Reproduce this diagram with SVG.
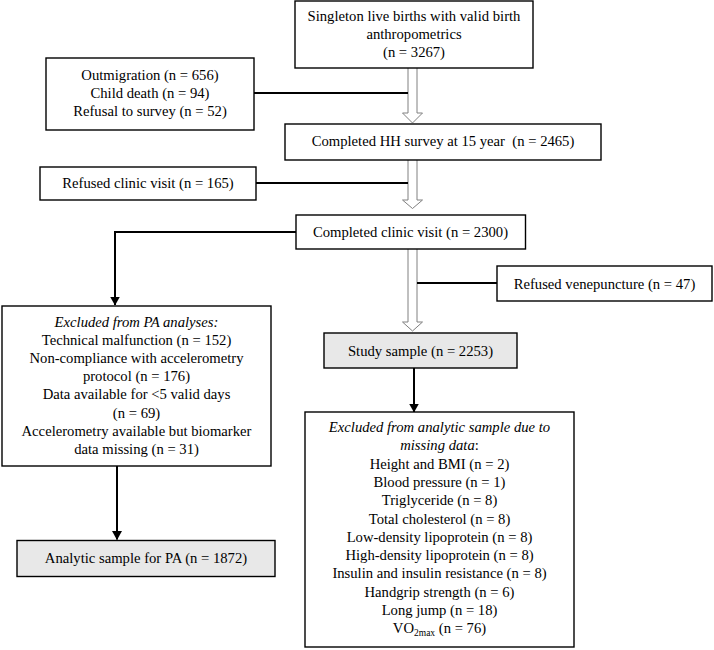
<svg xmlns="http://www.w3.org/2000/svg" width="714" height="650" viewBox="0 0 714 650">
<style>
text{font-family:"Liberation Serif","Times New Roman",serif;font-size:14.67px;fill:#000;text-anchor:middle}
.box{fill:#fff;stroke:#000;stroke-width:1.4}
.grey{fill:#e8e8e8;stroke:#000;stroke-width:1.4}
.conn{fill:none;stroke:#000;stroke-width:2}
.hollow{fill:#fff;stroke:#808080;stroke-width:1}
.it{font-style:italic}
</style>
<defs>
<marker id="ah" markerWidth="9" markerHeight="10" refX="8.5" refY="5" orient="auto" markerUnits="userSpaceOnUse">
<path d="M0,0 L9,5 L0,10 Z" fill="#000"/>
</marker>
</defs>
<rect width="714" height="650" fill="#fff"/>
<g id="connectors">
<path class="hollow" d="M408,68 V113 H402.5 L412.5,123 L422.5,113 H417 V68"/>
<path class="hollow" d="M408,160 V200 H402.5 L412.5,208.5 L422.5,200 H417 V160"/>
<path class="hollow" d="M408,249 V322 H402.5 L412.5,331 L422.5,322 H417 V249"/>
<path class="conn" d="M254,93 H408"/>
<path class="conn" d="M256,183 H408"/>
<path class="conn" d="M417,283 H497"/>
<path class="conn" d="M296,232 H115 V305" marker-end="url(#ah)"/>
<path class="conn" d="M117,466 V539.5" marker-end="url(#ah)"/>
<path class="conn" d="M414,368 V412" marker-end="url(#ah)"/>
</g>
<g id="births">
<rect class="box" x="295" y="1" width="238" height="67"/>
<text x="414" y="20.5">Singleton live births with valid birth</text>
<text x="414" y="38.8">anthropometrics</text>
<text x="414" y="57.1">(n = 3267)</text>
</g>
<g id="loss1">
<rect class="box" x="46" y="58" width="208" height="72"/>
<text x="150" y="79.5">Outmigration (n = 656)</text>
<text x="150" y="97.5">Child death (n = 94)</text>
<text x="150" y="115.5">Refusal to survey (n = 52)</text>
</g>
<g id="hh">
<rect class="box" x="285" y="124" width="316" height="36"/>
<text x="443" y="145.5">Completed HH survey at 15 year&#160; (n = 2465)</text>
</g>
<g id="refclinic">
<rect class="box" x="40" y="167" width="216" height="33"/>
<text x="148" y="188">Refused clinic visit (n = 165)</text>
</g>
<g id="clinic">
<rect class="box" x="296" y="215" width="229.5" height="34"/>
<text x="410.5" y="236.5">Completed clinic visit (n = 2300)</text>
</g>
<g id="refvene">
<rect class="box" x="497" y="266" width="215" height="35"/>
<text x="604.5" y="289">Refused venepuncture (n = 47)</text>
</g>
<g id="study">
<rect class="grey" x="324" y="333" width="193" height="35"/>
<text x="420.5" y="355.5">Study sample (n = 2253)</text>
</g>
<g id="excludedPA">
<rect class="box" x="2" y="306" width="269" height="160"/>
<text x="136.5" y="326.5" class="it">Excluded from PA analyses:</text>
<text x="136.5" y="344.7">Technical malfunction (n = 152)</text>
<text x="136.5" y="362.9">Non-compliance with accelerometry</text>
<text x="136.5" y="381.1">protocol (n = 176)</text>
<text x="136.5" y="399.3">Data available for &lt;5 valid days</text>
<text x="136.5" y="417.5">(n = 69)</text>
<text x="136.5" y="435.7">Accelerometry available but biomarker</text>
<text x="136.5" y="453.9">data missing (n = 31)</text>
</g>
<g id="analyticPA">
<rect class="grey" x="17" y="540.5" width="258" height="36"/>
<text x="146" y="563">Analytic sample for PA (n = 1872)</text>
</g>
<g id="excludedAnalytic">
<rect class="box" x="305" y="412" width="269" height="235"/>
<text x="439.5" y="432" class="it">Excluded from analytic sample due to</text>
<text x="439.5" y="450.3"><tspan class="it">missing data</tspan>:</text>
<text x="439.5" y="468.6">Height and BMI (n = 2)</text>
<text x="439.5" y="486.9">Blood pressure (n = 1)</text>
<text x="439.5" y="505.2">Triglyceride (n = 8)</text>
<text x="439.5" y="523.5">Total cholesterol (n = 8)</text>
<text x="439.5" y="541.8">Low-density lipoprotein (n = 8)</text>
<text x="439.5" y="560.1">High-density lipoprotein (n = 8)</text>
<text x="439.5" y="578.4">Insulin and insulin resistance (n = 8)</text>
<text x="439.5" y="596.7">Handgrip strength (n = 6)</text>
<text x="439.5" y="615">Long jump (n = 18)</text>
<text x="439.5" y="633.3">VO<tspan font-size="9.5" dy="2.5">2max</tspan><tspan dy="-2.5"> (n = 76)</tspan></text>
</g>
</svg>
